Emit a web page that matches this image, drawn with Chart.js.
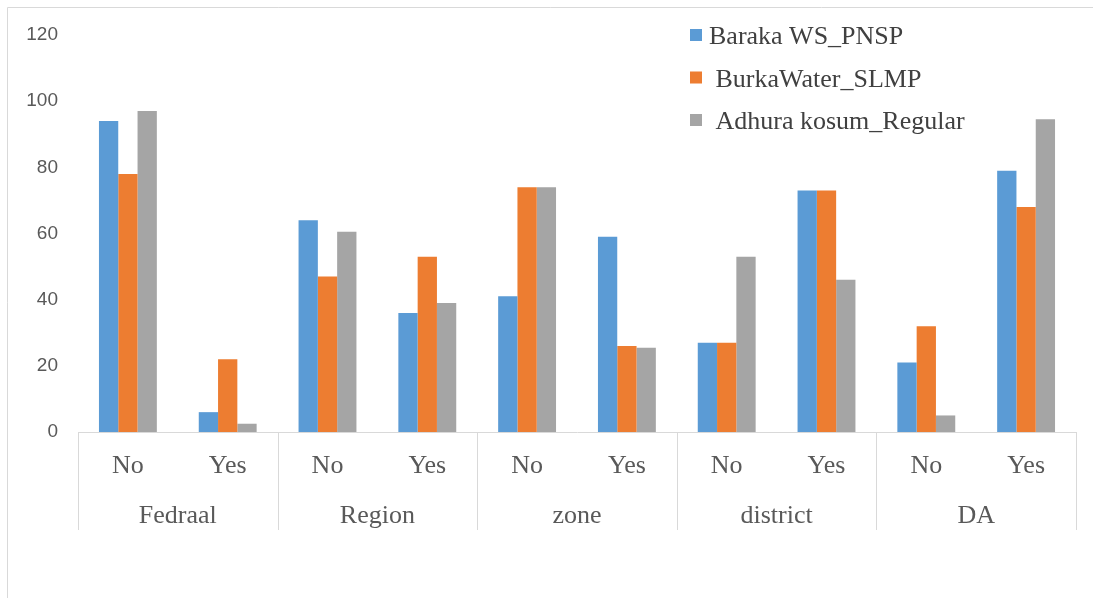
<!DOCTYPE html>
<html>
<head>
<meta charset="utf-8">
<script src="https://cdn.jsdelivr.net/npm/chart.js@4"></script>
<style>
  body { margin: 0; background: #fff; }
  #wrap { width: 1093px; height: 598px; }
</style>
</head>
<body>
<div id="wrap"><canvas id="respChart" width="1093" height="598"></canvas></div>
<script>
const answers = ["No", "Yes", "No", "Yes", "No", "Yes", "No", "Yes", "No", "Yes"];
const levels = ["Fedraal", "Region", "zone", "district", "DA"];
const yTicks = [0, 20, 40, 60, 80, 100, 120];

const barakaWS = [94, 6, 64, 36, 41, 59, 27, 73, 21, 79];
const burkaWater = [78, 22, 47, 53, 74, 26, 27, 73, 32, 68];
const adhuraKosum = [97, 2.5, 60.5, 39, 74, 25.5, 53, 46, 5, 94.5];

const serif = "'Liberation Serif', 'Times New Roman', serif";
const lineGrey = "#d9d9d9";
const textGrey = "#595959";

// frame lines + group labels and separators under the No/Yes row
const groupAxis = {
  id: "groupAxis",
  beforeDraw(chart) {
    const ctx = chart.ctx;
    ctx.save();
    ctx.strokeStyle = lineGrey;
    ctx.lineWidth = 1;
    ctx.beginPath();
    ctx.moveTo(7.5, 598);
    ctx.lineTo(7.5, 7.5);
    ctx.lineTo(1093, 7.5);
    ctx.stroke();
    ctx.restore();
  },
  afterDraw(chart) {
    const ctx = chart.ctx;
    const x = chart.scales.x;
    const area = chart.chartArea;
    const half = (x.getPixelForValue(1) - x.getPixelForValue(0)) / 2;
    ctx.save();
    ctx.strokeStyle = lineGrey;
    ctx.lineWidth = 1;
    for (let g = 0; g <= levels.length; g++) {
      const px = g < levels.length ? x.getPixelForValue(g * 2) - half : x.getPixelForValue(g * 2 - 1) + half;
      ctx.beginPath();
      ctx.moveTo(Math.round(px) + 0.5, area.bottom);
      ctx.lineTo(Math.round(px) + 0.5, 530);
      ctx.stroke();
    }
    ctx.fillStyle = textGrey;
    ctx.font = "26px " + serif;
    ctx.textAlign = "center";
    ctx.textBaseline = "alphabetic";
    levels.forEach((name, g) => {
      const cx = (x.getPixelForValue(g * 2) + x.getPixelForValue(g * 2 + 1)) / 2;
      ctx.fillText(name, cx, 523);
    });
    ctx.restore();
  }
};

// legend drawn inside the plot, top right
const innerLegend = {
  id: "innerLegend",
  afterDraw(chart) {
    const ctx = chart.ctx;
    ctx.save();
    ctx.font = "26px " + serif;
    ctx.textBaseline = "alphabetic";
    ctx.textAlign = "left";
    chart.data.datasets.forEach((ds, i) => {
      const base = 44 + i * 42.5;
      ctx.fillStyle = ds.backgroundColor;
      ctx.fillRect(690, base - 15, 12, 12);
      ctx.fillStyle = "#404040";
      ctx.fillText(ds.label, 709, base);
    });
    ctx.restore();
  }
};

const ctx = document.getElementById("respChart").getContext("2d");
const chart = new Chart(ctx, {
  type: "bar",
  data: {
    labels: answers,
    datasets: [
      { label: "Baraka WS_PNSP", data: barakaWS, backgroundColor: "#5B9BD5" },
      { label: " BurkaWater_SLMP", data: burkaWater, backgroundColor: "#ED7D31" },
      { label: " Adhura kosum_Regular", data: adhuraKosum, backgroundColor: "#A5A5A5" }
    ]
  },
  options: {
    responsive: false,
    animation: false,
    devicePixelRatio: 1,
    layout: { padding: { left: 8, right: 17, top: 35, bottom: 0 } },
    datasets: { bar: { categoryPercentage: 0.58, barPercentage: 1.0 } },
    plugins: { legend: { display: false }, tooltip: { enabled: false } },
    scales: {
      x: {
        grid: { display: false, drawTicks: false },
        border: { display: true, color: lineGrey, width: 1 },
        ticks: { color: textGrey, font: { family: serif, size: 26 }, padding: 19, maxRotation: 0 },
        afterFit: (s) => { s.height = 166; }
      },
      y: {
        min: 0,
        max: 120,
        afterBuildTicks: (s) => { s.ticks = yTicks.map((v) => ({ value: v })); },
        grid: { display: false, drawTicks: false },
        border: { display: false },
        ticks: { color: textGrey, font: { family: "'Liberation Sans', Arial, sans-serif", size: 19 }, padding: 20 },
        afterFit: (s) => { s.width = 70; }
      }
    }
  },
  plugins: [groupAxis, innerLegend]
});
</script>
</body>
</html>
